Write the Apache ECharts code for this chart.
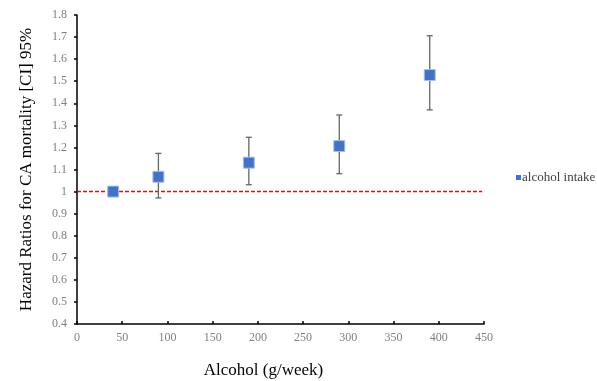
<!DOCTYPE html>
<html><head><meta charset="utf-8">
<script src="https://cdn.jsdelivr.net/npm/echarts@6/dist/echarts.min.js"></script>
<style>html,body{margin:0;padding:0;background:#fff}#c{width:597px;height:381px}</style>
</head><body><div id="c"></div>
<script>
const alcohol = [40, 90, 190, 290, 390];
const hazardRatio = [1.0, 1.067, 1.131, 1.206, 1.528];
const ciLow = [1.0, 0.971, 1.031, 1.081, 1.370];
const ciHigh = [1.0, 1.173, 1.246, 1.347, 1.706];
const referenceLine = 1.0;
const referenceLineX = [0, 448];
const seriesName = 'alcohol intake';

const serif = 'Liberation Serif';
const chart = echarts.init(document.getElementById('c'));
const errData = alcohol.map((x, i) => [x, ciLow[i], ciHigh[i]]).filter((d, i) => ciLow[i] !== ciHigh[i]);
chart.setOption({
  animation: false,
  grid: {left: 77, right: 113, top: 15, bottom: 57, containLabel: false, outerBoundsMode: 'none'},
  legend: {
    data: [{name: seriesName, icon: 'rect', itemStyle: {borderWidth: 0, color: '#4472C4'}}],
    left: 511, top: 166, orient: 'vertical',
    itemWidth: 5, itemHeight: 5,
    textStyle: {fontFamily: serif, fontSize: 13, color: '#404040', padding: [0,0,0,-4]}
  },
  xAxis: {
    type: 'value', min: 0, max: 450, interval: 50,
    name: 'Alcohol (g/week)', nameLocation: 'middle', nameGap: 38,
    nameTextStyle: {fontFamily: serif, fontSize: 17, color: '#000', padding: [0, 34, 0, 0]},
    axisLine: {lineStyle: {color: '#000', width: 1.5}},
    axisTick: {show: true, inside: true, length: 3, lineStyle: {color: '#000', width: 1.5}},
    axisLabel: {fontFamily: serif, fontSize: 12, color: '#808080', margin: 8},
    splitLine: {show: false}
  },
  yAxis: {
    type: 'value', min: 0.4, max: 1.8, interval: 0.1,
    name: 'Hazard Ratios for CA mortality [CI] 95%', nameLocation: 'middle', nameGap: 42,
    nameTextStyle: {fontFamily: serif, fontSize: 17, color: '#000'},
    axisLine: {show: true, lineStyle: {color: '#000', width: 1.5}},
    axisTick: {show: true, length: 3, lineStyle: {color: '#000', width: 1.5}},
    axisLabel: {fontFamily: serif, fontSize: 12, color: '#808080', margin: 10,
      formatter: v => String(Math.round(v * 10) / 10)},
    splitLine: {show: false}
  },
  series: [
    {
      type: 'line', name: 'ref', silent: true, z: 1,
      symbol: 'none', color: '#FF0000',
      lineStyle: {color: '#FF0000', type: [4, 2], width: 1.6, opacity: 1},
      data: referenceLineX.map(x => [x, referenceLine])
    },
    {
      type: 'custom', name: 'ci', silent: true, z: 2,
      data: errData,
      renderItem: function (params, api) {
        const x = api.value(0);
        const lo = api.coord([x, api.value(1)]);
        const hi = api.coord([x, api.value(2)]);
        const w = 3;
        const st = {stroke: '#666', lineWidth: 1.3};
        return {type: 'group', children: [
          {type: 'line', shape: {x1: lo[0], y1: lo[1], x2: hi[0], y2: hi[1]}, style: st},
          {type: 'line', shape: {x1: lo[0]-w, y1: lo[1], x2: lo[0]+w, y2: lo[1]}, style: st},
          {type: 'line', shape: {x1: hi[0]-w, y1: hi[1], x2: hi[0]+w, y2: hi[1]}, style: st}
        ]};
      }
    },
    {
      type: 'scatter', name: seriesName, z: 5,
      symbol: 'rect', symbolSize: 11,
      itemStyle: {color: '#4472C4', borderColor: '#A9C0EA', borderWidth: 1, opacity: 1},
      data: alcohol.map((x, i) => [x, hazardRatio[i]])
    }
  ]
});
</script></body></html>
